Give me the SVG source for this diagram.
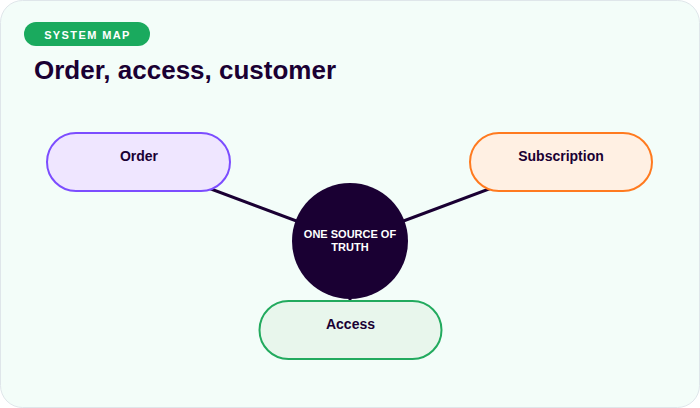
<svg xmlns="http://www.w3.org/2000/svg" width="700" height="408" viewBox="0 0 700 408">
<style>
.bg{fill:#f3fdf9;stroke:#dfe6ea;stroke-width:1}
.pill{stroke-width:2}
.lbl{font-family:"Liberation Sans",Arial,sans-serif;font-weight:700;font-size:14px;fill:#1a0033;text-anchor:middle}
.edge{stroke:#1a0033;stroke-width:3;fill:none}
.hub{font-family:"Liberation Sans",Arial,sans-serif;font-weight:700;font-size:11px;fill:#ffffff;text-anchor:middle}
</style>
<rect class="bg" x="0.5" y="0.5" width="699" height="407" rx="22"/>
<g id="badge">
<rect x="24" y="22" width="126" height="24" rx="12" fill="#1aaa5e"/>
<text x="87.5" y="38.5" font-family="'Liberation Sans',Arial,sans-serif" font-weight="700" font-size="11" letter-spacing="1.4" fill="#ffffff" text-anchor="middle">SYSTEM MAP</text>
</g>
<text id="title" x="34" y="79" font-family="'Liberation Sans',Arial,sans-serif" font-weight="700" font-size="26" fill="#1a0033">Order, access, customer</text>
<g id="connectors">
<line class="edge" x1="139" y1="162" x2="350" y2="241"/>
<line class="edge" x1="561" y1="162" x2="350" y2="241"/>
<line class="edge" x1="350" y1="241" x2="350" y2="330"/>
</g>
<g id="order">
<rect class="pill" x="47" y="133" width="183" height="58" rx="29" fill="#efe6ff" stroke="#7c4dff"/>
<text class="lbl" x="139" y="161">Order</text>
</g>
<g id="subscription">
<rect class="pill" x="470" y="133" width="182" height="58" rx="29" fill="#fff0e3" stroke="#ff7a1f"/>
<text class="lbl" x="561" y="161">Subscription</text>
</g>
<g id="access">
<rect class="pill" x="259.5" y="301" width="182" height="58" rx="29" fill="#e8f6ec" stroke="#22aa5e"/>
<text class="lbl" x="350.5" y="329">Access</text>
</g>
<g id="truth">
<circle cx="350" cy="241" r="58" fill="#1a0033"/>
<text class="hub" x="350" y="238">ONE SOURCE OF</text>
<text class="hub" x="350" y="251">TRUTH</text>
</g>
</svg>
